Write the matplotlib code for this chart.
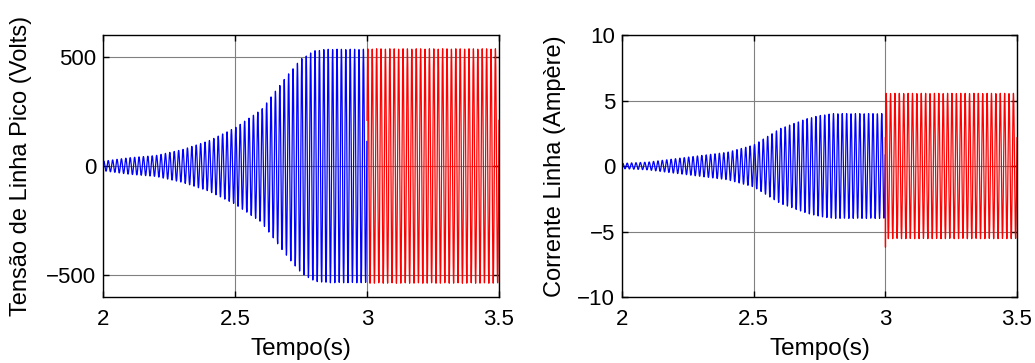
import numpy as np
import matplotlib.pyplot as plt

plt.rcParams['font.family'] = ['Liberation Sans', 'DejaVu Sans']

# envelope (time in s, peak amplitude)
env_t = [2.0, 2.1, 2.2, 2.3, 2.4, 2.5, 2.6, 2.7, 2.75, 2.8, 2.85, 3.0, 3.5]
volt_env = [22, 38, 48, 75, 115, 175, 258, 418, 490, 528, 535, 535, 535]
volt_env_red = 537
curr_env = [0.2, 0.3, 0.55, 0.8, 1.05, 1.6, 2.85, 3.6, 3.85, 4.0, 4.0, 4.0, 4.0]
curr_env_red = 5.55
curr_dip = -6.2          # transient at t = 3 s
curr_start = [1.5, -2.3]  # transient at t = 2 s
freq = 60.0
dt = 5e-4

t = np.arange(2.0, 3.5 + dt / 2, dt)
carrier = np.sin(2 * np.pi * freq * t + 0.4)
blue = t <= 3.0
red = t >= 3.0

v = np.interp(t, env_t, volt_env) * carrier
v[red] = volt_env_red * carrier[red]
i = np.interp(t, env_t, curr_env) * carrier
i[red] = curr_env_red * carrier[red]
i[:2] = curr_start
k = np.argmax(red)
i[k + 1] = curr_dip

fig = plt.figure(figsize=(10.35, 3.63), dpi=100)
W, H = 1035, 363
ax1 = fig.add_axes([103 / W, 1 - 297 / H, 396 / W, 262 / H])
ax2 = fig.add_axes([622 / W, 1 - 297 / H, 395 / W, 262 / H])


def style(ax):
    ax.set_xlim(2, 3.5)
    ax.set_xticks([2, 2.5, 3, 3.5])
    ax.set_xticklabels(['2', '2.5', '3', '3.5'])
    ax.grid(True, color='#808080', lw=0.8)
    ax.set_axisbelow(True)
    ax.tick_params(direction='in', top=True, right=True, length=4,
                   labelsize=16, width=1)
    ax.tick_params(axis='x', pad=8.5)
    ax.tick_params(axis='y', pad=5)
    for s in ax.spines.values():
        s.set_linewidth(1)
        s.set_color('black')
    ax.set_xlabel('Tempo(s)', fontsize=17.5, labelpad=6)


ax1.plot(t[blue], v[blue], color='#0000ff', lw=0.9)
ax1.plot(t[red], v[red], color='#ff0000', lw=0.9)
style(ax1)
ax1.set_ylim(-600, 600)
ax1.set_yticks([-500, 0, 500])
ax1.set_ylabel('Tensão de Linha Pico (Volts)', fontsize=17, labelpad=10)

ax2.plot(t[blue], i[blue], color='#0000ff', lw=0.9)
ax2.plot(t[red], i[red], color='#ff0000', lw=0.9)
style(ax2)
ax2.set_ylim(-10, 10)
ax2.set_yticks([-10, -5, 0, 5, 10])
ax2.set_ylabel('Corrente Linha (Ampère)', fontsize=17, labelpad=8)

fig.savefig('out.png', dpi=100)
